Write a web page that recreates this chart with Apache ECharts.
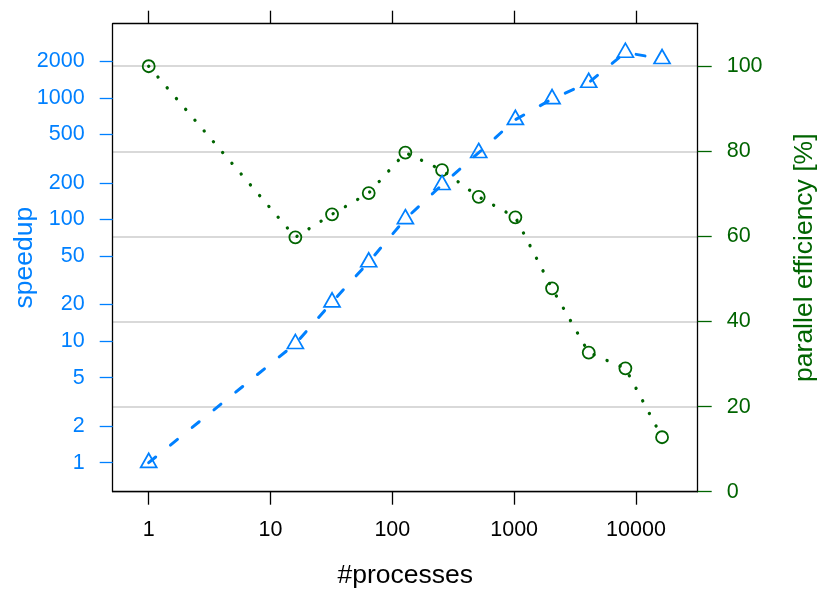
<!DOCTYPE html>
<html>
<head>
<meta charset="utf-8">
<script src="https://cdn.jsdelivr.net/npm/echarts@6/dist/echarts.min.js"></script>
<style>
html,body{margin:0;padding:0;background:#fff;}
#chart{width:820px;height:589px;}
</style>
</head>
<body>
<div id="chart"></div>
<script>
// ---- data ----
const processes = [1, 16, 32, 64, 128, 256, 512, 1024, 2048, 4096, 8192, 16384];
const speedup = [1, 9.5, 20.9, 44.6, 101, 193, 354, 662, 980, 1335, 2360, 2095];
const efficiency = [100, 59.8, 65.2, 70.2, 79.7, 75.6, 69.3, 64.5, 47.8, 32.7, 29.0, 12.8];
const xTicks = [1, 10, 100, 1000, 10000];
const speedupTicks = [1, 2, 5, 10, 20, 50, 100, 200, 500, 1000, 2000];
const effTicks = [0, 20, 40, 60, 80, 100];

const BLUE = '#0080ff';
const GREEN = '#006400';
const FONT = 'Liberation Sans, Arial, Helvetica, sans-serif';

const chart = echarts.init(document.getElementById('chart'), null, {renderer: 'canvas'});

const fmt = v => String(Math.round(v));
const xMin = 0.5064, xMax = 32137;

function xAxisDef(pos, showLabel) {
  return {
    type: 'log', logBase: 10, position: pos, min: xMin, max: xMax,
    name: showLabel ? '#processes' : '', nameLocation: 'middle', nameGap: 70,
    nameMoveOverlap: false,
    nameTextStyle: {color: '#000', fontSize: 26.5, fontFamily: FONT},
    axisLine: {show: true, onZero: false, lineStyle: {color: '#000', width: 1.3}},
    axisTick: {show: true, inside: false, length: 13, customValues: xTicks, lineStyle: {color: '#000', width: 1.3}},
    minorTick: {show: false},
    axisLabel: {show: showLabel, customValues: xTicks, formatter: fmt, margin: 27,
      color: '#000', fontSize: 21.5, fontFamily: FONT},
    splitLine: {show: false}, minorSplitLine: {show: false}
  };
}

const option = {
  animation: false,
  backgroundColor: '#fff',
  grid: {left: 112.7, right: 122.3, top: 23.7, bottom: 97.3, containLabel: false, outerBoundsMode: 'none'},
  xAxis: [xAxisDef('bottom', true), xAxisDef('top', false)],
  yAxis: [
    {
      type: 'log', logBase: 10, position: 'left', min: 0.5774, max: 4074,
      name: 'speedup', nameLocation: 'middle', nameGap: 75, nameMoveOverlap: false,
      nameTextStyle: {color: BLUE, fontSize: 26.5, fontFamily: FONT},
      axisLine: {show: true, onZero: false, lineStyle: {color: '#000', width: 1.3}},
      axisTick: {show: true, inside: false, length: 13, customValues: speedupTicks, lineStyle: {color: BLUE, width: 1.3}},
      minorTick: {show: false},
      axisLabel: {show: true, customValues: speedupTicks, formatter: fmt, margin: 28,
        color: BLUE, fontSize: 21.5, fontFamily: FONT},
      splitLine: {show: false}, minorSplitLine: {show: false}
    },
    {
      type: 'value', position: 'right', min: 0, max: 110,
      name: 'parallel efficiency [%]', nameLocation: 'middle', nameGap: 93, nameMoveOverlap: false,
      nameTextStyle: {color: GREEN, fontSize: 26.5, fontFamily: FONT},
      axisLine: {show: true, onZero: false, lineStyle: {color: '#000', width: 1.3}},
      axisTick: {show: true, inside: false, length: 14, customValues: effTicks, lineStyle: {color: GREEN, width: 1.3}},
      axisLabel: {show: true, customValues: effTicks, margin: 29,
        color: GREEN, fontSize: 21.5, fontFamily: FONT},
      splitLine: {show: true, lineStyle: {color: '#cccccc', width: 1.5}}
    }
  ],
  series: [
    {
      name: 'parallel efficiency', type: 'line', xAxisIndex: 0, yAxisIndex: 1,
      data: processes.map((p, i) => [p, efficiency[i]]),
      symbol: 'circle', symbolSize: 12,
      itemStyle: {color: 'rgba(0,0,0,0)', borderColor: GREEN, borderWidth: 1.8},
      lineStyle: {color: GREEN, width: 3.3, type: [0.1, 14.1], cap: 'round'},
      z: 3
    },
    {
      name: 'speedup', type: 'line', xAxisIndex: 0, yAxisIndex: 0,
      data: processes.map((p, i) => [p, speedup[i]]),
      symbol: 'triangle', symbolSize: [16, 14], symbolOffset: [0, -2.3],
      itemStyle: {color: 'rgba(0,0,0,0)', borderColor: BLUE, borderWidth: 1.7},
      lineStyle: {color: BLUE, width: 3, type: [9, 19], cap: 'round'},
      z: 4
    }
  ]
};
chart.setOption(option);
</script>
</body>
</html>
